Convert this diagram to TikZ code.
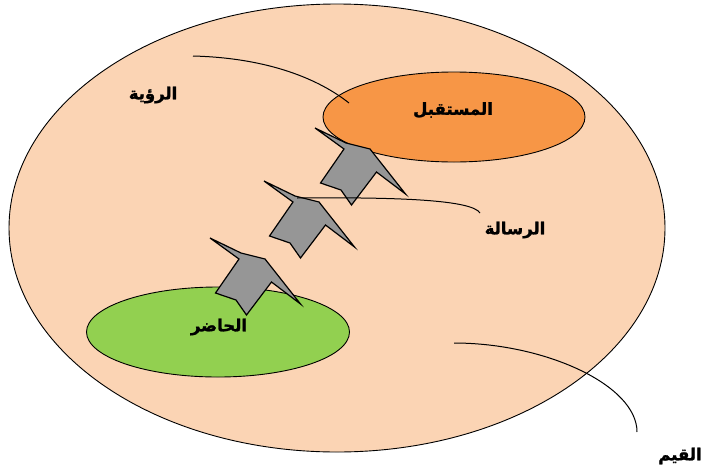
\documentclass[tikz,border=0pt]{standalone}
\usepackage{fontspec}
\newfontfamily\arabicfont[Script=Arabic, BoldFeatures={FakeBold=1.5}]{DejaVu Sans}
\TeXXeTstate=1
\usetikzlibrary{shapes.geometric}
\definecolor{peach}{HTML}{FBD4B4}
\definecolor{futureorange}{HTML}{F79646}
\definecolor{presentgreen}{HTML}{92D050}
\definecolor{arrowgray}{HTML}{969696}
\tikzset{
  region/.style={ellipse, draw=black, line width=0.9pt, inner sep=0pt},
  lbl/.style={font=\arabicfont\bfseries\fontsize{16.5}{18}\selectfont, inner sep=0pt},
  leader/.style={draw=black, line width=1pt},
  arrowshape/.style={draw=black, fill=arrowgray, line width=1.2pt, line join=miter},
  uparrow/.pic={
    \path[arrowshape] (0,0) -- (31,15) -- (55,21) -- (90.5,66) -- (61.5,44)
      -- (36.5,77) -- (26,62) -- (5.5,55) -- (29,21) -- cycle;
  }
}
\begin{document}
\begin{tikzpicture}[x=1pt,y=-1pt]
\useasboundingbox (0,0) rectangle (706,474);
\node[region, fill=peach, minimum width=656pt, minimum height=448pt] (values) at (337,228) {};
\node[region, fill=futureorange, minimum width=262pt, minimum height=90pt] (future) at (454,117) {};
\node[region, fill=presentgreen, minimum width=263pt, minimum height=90pt] (present) at (218,332) {};
\pic (arrowA) at (210,238) {uparrow};
\pic (arrowB) at (264,181) {uparrow};
\pic (arrowC) at (315,128) {uparrow};
\node[lbl] (visionlbl) at (153,95) {\beginR الرؤية\endR};
\node[lbl] (futurelbl) at (453,110) {\beginR المستقبل\endR};
\node[lbl] (missionlbl) at (515,230) {\beginR الرسالة\endR};
\node[lbl] (presentlbl) at (219,327) {\beginR الحاضر\endR};
\node[lbl] (valueslbl) at (680,456) {\beginR القيم\endR};
\coordinate (visionstart) at (193,56);
\coordinate (visionend) at (349,103);
\coordinate (missionstart) at (297,198);
\coordinate (missionend) at (480,213);
\coordinate (valuesstart) at (454,343);
\coordinate (valuesend) at (637,432);
\draw[leader] (visionstart) .. controls (270,58) and (320,80) .. (visionend);
\draw[leader] (missionstart) .. controls (400,197) and (472,200) .. (missionend);
\draw[leader] (valuesstart) .. controls (545,343) and (637,385) .. (valuesend);
\end{tikzpicture}
\end{document}
